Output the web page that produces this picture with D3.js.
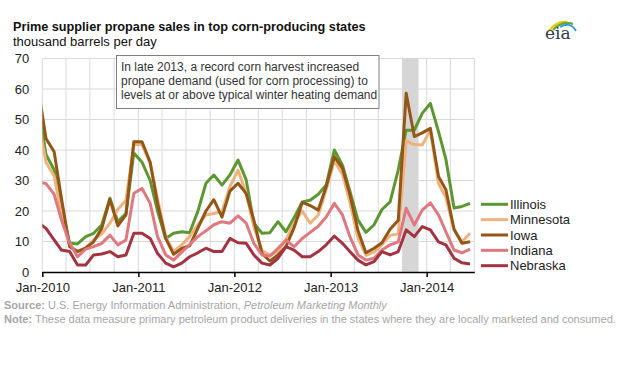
<!DOCTYPE html>
<html>
<head>
<meta charset="utf-8">
<script src="https://cdn.jsdelivr.net/npm/d3@7"></script>
<style>
  body { margin: 0; background: #fff; }
  svg { display: block; font-family: Arial, "Liberation Sans", sans-serif; }
  .tick text { fill: #222; }
</style>
</head>
<body>
<script>
// months: Dec-2009 (clipped at the axis) .. Jun-2014
var months = ["2009-12",
  "2010-01","2010-02","2010-03","2010-04","2010-05","2010-06","2010-07","2010-08","2010-09","2010-10","2010-11","2010-12",
  "2011-01","2011-02","2011-03","2011-04","2011-05","2011-06","2011-07","2011-08","2011-09","2011-10","2011-11","2011-12",
  "2012-01","2012-02","2012-03","2012-04","2012-05","2012-06","2012-07","2012-08","2012-09","2012-10","2012-11","2012-12",
  "2013-01","2013-02","2013-03","2013-04","2013-05","2013-06","2013-07","2013-08","2013-09","2013-10","2013-11","2013-12",
  "2014-01","2014-02","2014-03","2014-04","2014-05","2014-06"];

var illinois = [55.5,
  38.5,33.5,21,9.5,9.2,11.6,12.7,15.4,24.2,16.5,19.2,39,
  36,30,20,11,12.7,13.2,12.9,19.8,29.1,31.8,28.5,31.8,
  36.7,30.2,16,12.7,12.9,16.5,13.2,17.8,23,23.5,25.5,28.5,
  40,35,26.5,17,13,15.5,20.5,23,33.5,46.5,46.5,52,
  55.3,46,37,21,21.5,22.5];

var minnesota = [50.5,
  36,31.5,19,8.5,6.8,8,10.5,12.5,16,20.5,23.5,41.8,
  41.8,35.6,24,11.6,6.7,8.9,11.6,15.5,18.7,19.2,19.8,28,
  33.4,25.8,14.9,7,5.5,6.7,10.5,16,20,16,18.7,27,
  36.5,32,23,11,5.5,6.5,9,12,12.5,43,41.8,41.6,
  46.5,29,24.5,13.8,9.9,12.7];

var iowa = [61,
  43.8,39.4,24,8.3,6.7,7.8,9.9,14.3,23.8,15.1,18.7,42.7,
  42.7,36,22.5,11,5.8,7.7,8.6,14.3,20,23.7,18,26.5,
  29.1,25.7,17,6,3.6,5.6,8.3,14.5,22.8,21.8,20.3,28,
  37.8,34,25.5,13.5,6.3,7.8,9.6,14,17,58.6,44.4,45.6,
  47.1,31.3,27,14,9.4,9.9];

var indiana = [29.5,
  29,25.5,17,9.5,5,7.5,8.3,9.4,12.1,8.9,10.5,25.8,
  27.4,22.5,11.6,5.6,3.9,6.5,9,11.6,13.5,15.5,16.5,16,
  18.4,16,9.4,5.6,5.2,7.8,10.5,8.3,11,13,15,18,
  22.5,18.7,11.6,5.6,3.9,4.5,7.2,8.9,9.9,20.9,15.4,20.3,
  22.7,18.7,13.2,7.2,6.3,7.5];

var nebraska = [16.3,
  14.3,10.5,7.2,6.7,2.3,2.3,5.6,5.9,6.7,5,5.6,12.7,
  12.7,11,6.1,2.9,1.7,2.9,5,6.3,7.8,6.7,6.7,11,
  9.6,9.4,5.6,2.9,2.3,4.5,8.3,7.2,5,5,6.7,8.9,
  11.8,9.4,6.7,3.9,2.3,3.4,6.7,5.6,6.7,13.8,11.6,14.9,
  13.8,9.9,8.9,4.5,3,2.6];

var seriesNames = ["Illinois", "Minnesota", "Iowa", "Indiana", "Nebraska"];
var seriesColors = ["#5d9732", "#efb27c", "#935617", "#e0787f", "#a33340"];
var seriesValues = [illinois, minnesota, iowa, indiana, nebraska];

var xTickYears = [2010, 2011, 2012, 2013, 2014];
var xTickLabels = ["Jan-2010", "Jan-2011", "Jan-2012", "Jan-2013", "Jan-2014"];
var yTicks = [0, 10, 20, 30, 40, 50, 60, 70];
var shadeMonths = ["2013-10", "2013-12"];

var width = 618, height = 385;
var plot = { left: 42.3, right: 474.3, top: 58.5, bottom: 272 };

var parseMonth = d3.timeParse("%Y-%m");
var midMonth = function (s) {
  var d = parseMonth(s);
  return new Date(d.getFullYear(), d.getMonth(), 15);
};

var x = d3.scaleTime().
domain([new Date(2010, 0, 1), new Date(2014, 6, 1)]).
range([plot.left, plot.right]);

var y = d3.scaleLinear().
domain([0, 70]).
range([plot.bottom, plot.top]);

var svg = d3.select("body").append("svg").
attr("width", width).
attr("height", height);

svg.append("rect").attr("width", width).attr("height", height).attr("fill", "#fff");

// title
svg.append("text").
attr("x", 13).attr("y", 31).
style("font-size", "12.7px").style("font-weight", "bold").attr("fill", "#111").
text("Prime supplier propane sales in top corn-producing states");
svg.append("text").
attr("x", 13).attr("y", 46).
style("font-size", "13px").attr("fill", "#111").
text("thousand barrels per day");

// grid
var grid = svg.append("g").attr("class", "grid");
grid.selectAll(".hgrid").
data(yTicks.slice(1)).
enter().append("line").
attr("x1", plot.left).attr("x2", plot.right).
attr("y1", function (d) {return y(d);}).
attr("y2", function (d) {return y(d);}).
attr("stroke", "#d9d9d9").attr("stroke-width", 1);

grid.selectAll(".vgrid").
data(d3.timeMonth.every(3).range(new Date(2010, 0, 1), new Date(2014, 6, 2))).
enter().append("line").
attr("x1", function (d) {return x(d);}).
attr("x2", function (d) {return x(d);}).
attr("y1", y(0)).attr("y2", y(70)).
attr("stroke", "#d9d9d9").attr("stroke-width", 1);

// shaded band
svg.append("rect").
attr("x", x(parseMonth(shadeMonths[0]))).
attr("width", x(parseMonth(shadeMonths[1])) - x(parseMonth(shadeMonths[0]))).
attr("y", y(70)).
attr("height", y(0) - y(70)).
attr("fill", "#d6d6d6");

// axes
var xAxis = d3.axisBottom(x).
tickValues(xTickYears.map(function (yr) {return new Date(yr, 0, 1);})).
tickFormat(function (d, i) {return xTickLabels[i];}).
tickSize(5).tickSizeOuter(0).tickPadding(6);

svg.append("g").
attr("transform", "translate(0," + plot.bottom + ")").
call(xAxis).
call(function (g) {
  g.select(".domain").attr("stroke", "#000").attr("stroke-width", 1.5);
  g.selectAll(".tick line").attr("stroke", "#000").attr("stroke-width", 1.5);
  g.selectAll(".tick text").style("font-size", "13px").style("font-family", "Arial, 'Liberation Sans', sans-serif");
});

var yAxis = d3.axisLeft(y).tickValues(yTicks).tickSize(0).tickPadding(13);
svg.append("g").
attr("transform", "translate(" + plot.left + ",0)").
call(yAxis).
call(function (g) {
  g.select(".domain").remove();
  g.selectAll(".tick text").style("font-size", "13px").style("font-family", "Arial, 'Liberation Sans', sans-serif");
});

// lines
svg.append("clipPath").attr("id", "clip").
append("rect").
attr("x", plot.left).attr("y", 0).
attr("width", plot.right - plot.left).attr("height", height);

var line = d3.line().
x(function (d, i) {return x(midMonth(months[i]));}).
y(function (d) {return y(d);});

svg.append("g").attr("clip-path", "url(#clip)").
selectAll(".series").
data(seriesValues).
enter().append("path").
attr("class", "series").
attr("d", line).
attr("fill", "none").
attr("stroke", function (d, i) {return seriesColors[i];}).
attr("stroke-width", 3).
attr("stroke-linejoin", "round");

// annotation
var note = svg.append("g");
note.append("rect").
attr("x", 116.5).attr("y", 55.5).
attr("width", 262.5).attr("height", 53).
attr("fill", "#fff").attr("stroke", "#7f7f7f").attr("stroke-width", 1);
note.selectAll("text").
data(["In late 2013, a record corn harvest increased",
"propane demand (used for corn processing) to",
"levels at or above typical winter heating demand"]).
enter().append("text").
attr("x", 121).
attr("y", function (d, i) {return 71 + i * 14;}).
style("font-size", "12px").attr("fill", "#333").
text(function (d) {return d;});

// legend
var legend = svg.selectAll(".legend").
data(seriesNames).
enter().append("g").
attr("class", "legend").
attr("transform", function (d, i) {return "translate(481," + (204.3 + i * 15.35) + ")";});
legend.append("line").
attr("x1", 0).attr("x2", 27).
attr("stroke", function (d, i) {return seriesColors[i];}).
attr("stroke-width", 3);
legend.append("text").
attr("x", 29).attr("dy", "0.35em").
style("font-size", "13px").attr("fill", "#222").
text(function (d) {return d;});

// source and note
var src = svg.append("text").attr("x", 4).attr("y", 309).
style("font-size", "11px").attr("fill", "#a6a6a6");
src.append("tspan").style("font-weight", "bold").text("Source:");
src.append("tspan").text(" U.S. Energy Information Administration, ");
src.append("tspan").style("font-style", "italic").text("Petroleum Marketing Monthly");

var nt = svg.append("text").attr("x", 4).attr("y", 323).
style("font-size", "11px").attr("fill", "#a6a6a6");
nt.append("tspan").style("font-weight", "bold").text("Note:");
nt.append("tspan").text(" These data measure primary petroleum product deliveries in the states where they are locally marketed and consumed.");

// eia logo
var logo = svg.append("g");
logo.append("path").attr("d", "M549,31 Q556,21 567,22").attr("fill", "none").attr("stroke", "#f2c500").attr("stroke-width", 2.2);
logo.append("path").attr("d", "M553,30 Q562,20 573,24").attr("fill", "none").attr("stroke", "#6aa53a").attr("stroke-width", 2.2);
logo.append("path").attr("d", "M560,27 Q570,21 576,31").attr("fill", "none").attr("stroke", "#2a9fd6").attr("stroke-width", 1.8);
logo.append("text").attr("x", 545).attr("y", 39).
style("font-size", "17px").style("font-family", "'DejaVu Serif', serif").attr("fill", "#2f3b48").
text("eia");
</script>
</body>
</html>
